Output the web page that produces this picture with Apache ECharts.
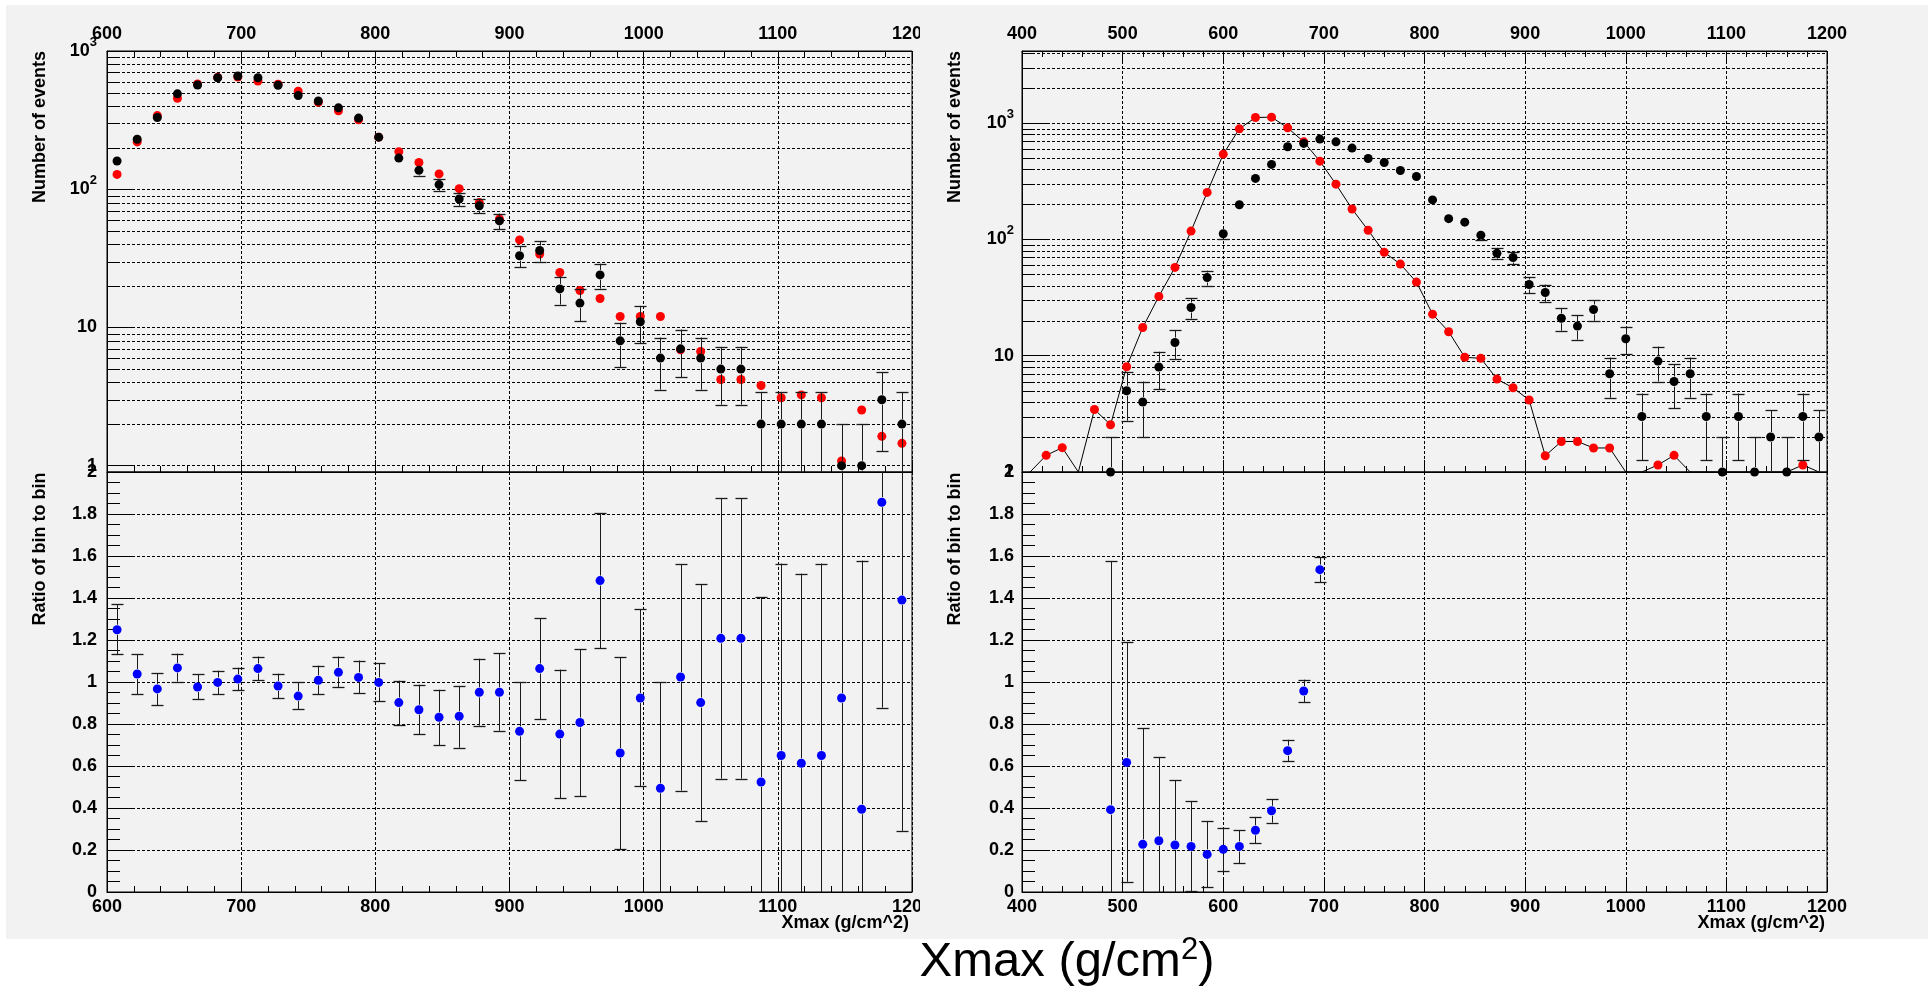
<!DOCTYPE html>
<html>
<head>
<meta charset="utf-8">
<script src="https://cdn.jsdelivr.net/npm/echarts@6/dist/echarts.min.js"></script>
<style>html,body{margin:0;padding:0;background:#fff}#c{width:1930px;height:989px}</style>
</head>
<body>
<div id="c"></div>
<script>
// ---------------- DATA ----------------
// Left panel: bin centres (g/cm^2), 15 g/cm^2 bins from 600 to 1200
const leftBins = [607.5,622.5,637.5,652.5,667.5,682.5,697.5,712.5,727.5,742.5,757.5,772.5,787.5,802.5,817.5,832.5,847.5,862.5,877.5,892.5,907.5,922.5,937.5,952.5,967.5,982.5,997.5,1012.5,1027.5,1042.5,1057.5,1072.5,1087.5,1102.5,1117.5,1132.5,1147.5,1162.5,1177.5,1192.5];
const leftBlack = [160,230,330,490,568,641,660,641,565,476,435,388,327,238,168,137,108,85,76,59,33,36,19,15,24,8,11,6,7,6,5,5,2,2,2,2,1,1,3,2];
const leftRed = [128,220,341,455,578,645,649,607,575,512,426,369,318,238,187,156,129,101,80,61,43,34,25,18.5,16.2,12,12,12,6.9,6.7,4.2,4.2,3.8,3.1,3.25,3.1,1.08,2.53,1.63,1.45];
const leftRatio = [1.249,1.038,0.967,1.067,0.976,0.998,1.014,1.064,0.981,0.933,1.008,1.046,1.022,0.998,0.902,0.868,0.832,0.837,0.951,0.951,0.765,1.064,0.752,0.807,1.483,0.662,0.924,0.494,1.024,0.902,1.208,1.208,0.524,0.650,0.613,0.650,0.924,0.394,1.856,1.390];
const leftRatioHi = [1.370,1.132,1.043,1.135,1.037,1.054,1.068,1.121,1.040,0.998,1.078,1.121,1.102,1.090,1.006,0.987,0.963,0.981,1.111,1.137,0.998,1.303,1.059,1.156,1.805,1.119,1.346,0.998,1.560,1.465,1.875,1.875,1.403,1.564,1.516,1.564,2.6,1.578,2.9,2.5];
const leftRatioLo = [1.133,0.943,0.889,1.002,0.919,0.943,0.960,1.008,0.922,0.871,0.941,0.975,0.946,0.908,0.795,0.752,0.700,0.687,0.792,0.768,0.532,0.824,0.448,0.457,1.162,0.204,0.505,0,0.483,0.336,0.540,0.540,0,0,0,0,0,0,0.878,0.291];

// Right panel: bin centres, 16 g/cm^2 bins from 400 to 1200
const rightBins = [408,424,440,456,472,488,504,520,536,552,568,584,600,616,632,648,664,680,696,712,728,744,760,776,792,808,824,840,856,872,888,904,920,936,952,968,984,1000,1016,1032,1048,1064,1080,1096,1112,1128,1144,1160,1176,1192];
const rightBlack = [0,0,0,0,0,1,5,4,8,13,26,47,112,199,335,442,627,670,730,692,611,497,459,392,348,219,151,141,109,76,70,41,35,21,18,25,7,14,3,9,6,7,3,1,3,1,2,1,3,2];
const rightRed = [0,1.39,1.62,0,3.45,2.55,8.04,17.5,32.4,57.5,118,254,542,895,1119,1128,913,692,472,299,183,120,77.5,61.4,43,22.8,16.1,9.7,9.5,6.3,5.3,4.16,1.38,1.83,1.83,1.61,1.61,0,0,1.15,1.39,0,0,0,0,0,0,0,1.15,0];
const rightRatioBins = [488,504,520,536,552,568,584,600,616,632,648,664,680,696];
const rightRatio = [0.392,0.617,0.227,0.244,0.224,0.217,0.179,0.203,0.217,0.294,0.387,0.673,0.957,1.535];
const rightRatioHi = [1.576,1.189,0.779,0.641,0.533,0.433,0.338,0.306,0.295,0.357,0.441,0.725,1.011,1.595];
const rightRatioLo = [0,0.049,0,0,0,0.004,0.022,0.100,0.138,0.233,0.330,0.622,0.905,1.475];

// Axis ranges and tick values
const leftX = [600, 1200];
const rightX = [400, 1200];
const leftLogY = [0.9, 1000];
const rightLogY = [1, 4180];
const ratioY = [0, 2];
const leftLogMinor = [2,3,4,5,6,7,8,9,20,30,40,50,60,70,80,90,200,300,400,500,600,700,800,900];
const rightLogMinor = [2,3,4,5,6,7,8,9,20,30,40,50,60,70,80,90,200,300,400,500,600,700,800,900,2000,3000,4000];

// ---------------- STYLE / HELPERS ----------------
const FONT = 'Liberation Sans';
const GRAY = '#f2f2f2';
const DOT = {color: '#000', width: 1, type: [3, 2]};
const MS = 9;          // marker diameter
const MR = 5;          // error bars hidden inside this radius

function lbl(extra) {
  return Object.assign({fontFamily: FONT, fontWeight: 'bold', fontSize: 18, color: '#000'}, extra || {});
}
function logFmt(v) {
  const l = Math.log10(v);
  const e = Math.round(l);
  if (Math.abs(l - e) > 1e-6 || e < 0) return '';
  if (e === 0) return '1';
  if (e === 1) return '10';
  return '{b|10}{s|' + e + '}';
}
const logRich = {
  b: {fontFamily: FONT, fontWeight: 'bold', fontSize: 18, color: '#000'},
  s: {fontFamily: FONT, fontWeight: 'bold', fontSize: 13, color: '#000', padding: [0, 0, 18, 0]}
};

function xAxisCfg(grid, range, pos, showLabel) {
  return {
    gridIndex: grid, type: 'value', min: range[0], max: range[1], interval: 100, position: pos,
    axisLine: {show: true, onZero: false, lineStyle: {color: '#000', width: 1}},
    axisTick: {show: true, inside: true, length: 12, lineStyle: {color: '#000', width: 1}},
    minorTick: {show: true, splitNumber: 5, length: 6, lineStyle: {color: '#000', width: 1}},
    axisLabel: showLabel ? lbl({margin: pos === 'top' ? 8 : 6, showMinLabel: true, showMaxLabel: true,
      formatter: v => String(Math.round(v))}) : {show: false},
    splitLine: {show: true, lineStyle: DOT}
  };
}
function logYCfg(grid, range, margin) {
  return {
    gridIndex: grid, type: 'log', logBase: 10, min: range[0], max: range[1],
    axisLine: {show: true, lineStyle: {color: '#000', width: 1}},
    axisTick: {show: true, inside: true, length: 27, lineStyle: {color: '#000', width: 1}},
    axisLabel: lbl({margin: margin, formatter: logFmt, rich: logRich, showMinLabel: true, showMaxLabel: true}),
    splitLine: {show: true, lineStyle: DOT}
  };
}
function ratioYCfg(grid, margin) {
  return {
    gridIndex: grid, type: 'value', min: ratioY[0], max: ratioY[1], interval: 0.2,
    axisLine: {show: true, lineStyle: {color: '#000', width: 1}},
    axisTick: {show: true, inside: true, length: 27, lineStyle: {color: '#000', width: 1}},
    minorTick: {show: true, splitNumber: 4, length: 13, lineStyle: {color: '#000', width: 1}},
    axisLabel: lbl({margin: margin, showMinLabel: true, showMaxLabel: true,
      formatter: v => String(Math.round(v * 10) / 10)}),
    splitLine: {show: true, lineStyle: DOT}
  };
}

function minorGridRender(params, api) {
  const cs = params.coordSys;
  const p = api.coord([api.value(0), api.value(1)]);
  const y = Math.round(p[1]) + 0.5;
  return {type: 'group', children: [
    {type: 'line', shape: {x1: cs.x, y1: y, x2: cs.x + cs.width, y2: y}, style: {stroke: '#000', lineWidth: 1, lineDash: [3, 2]}},
    {type: 'line', shape: {x1: cs.x, y1: y, x2: cs.x + 13, y2: y}, style: {stroke: '#000', lineWidth: 1}}
  ]};
}
// data item: [x, hi, lo, centralValue]
function makeErrRender(isLog) {
  return function (params, api) {
    const cs = params.coordSys;
    const top = cs.y, bot = cs.y + cs.height;
    const x = api.value(0), hi = api.value(1), lo = api.value(2), v = api.value(3);
    const pc = api.coord([x, v]);
    const xp = Math.round(pc[0]) + 0.5, ym = pc[1];
    const ch = [];
    const ls = {stroke: '#1a1a1a', lineWidth: 1};
    const cs2 = {stroke: '#1a1a1a', lineWidth: 1.3};
    // upper part
    let yHi = api.coord([x, hi])[1];
    if (ym - yHi > MR) {
      let capHi = true;
      if (yHi < top) { yHi = top; capHi = false; }
      ch.push({type: 'line', shape: {x1: xp, y1: yHi, x2: xp, y2: Math.min(ym - MR, bot)}, style: ls});
      if (capHi) { const y = Math.round(yHi) + 0.5; ch.push({type: 'line', shape: {x1: xp - 6, y1: y, x2: xp + 6, y2: y}, style: cs2}); }
    }
    // lower part
    let yLo, capLo = true;
    if (isLog && lo <= 0) { yLo = bot; capLo = false; }
    else {
      yLo = api.coord([x, lo])[1];
      if (yLo >= bot - 0.5) { yLo = bot; capLo = false; }
    }
    if (yLo - ym > MR) {
      ch.push({type: 'line', shape: {x1: xp, y1: Math.max(ym + MR, top), x2: xp, y2: yLo}, style: ls});
      if (capLo) { const y = Math.round(yLo) + 0.5; ch.push({type: 'line', shape: {x1: xp - 6, y1: y, x2: xp + 6, y2: y}, style: cs2}); }
    }
    return {type: 'group', children: ch};
  };
}

// Build data tables
const ulRed = leftBins.map((x, i) => [x, leftRed[i] > 0 ? leftRed[i] : '-']);
const ulBlack = leftBins.map((x, i) => [x, leftBlack[i] > 0 ? leftBlack[i] : '-']);
const ulErr = leftBins.map((x, i) => [x, leftBlack[i] + Math.sqrt(leftBlack[i]), leftBlack[i] - Math.sqrt(leftBlack[i]), leftBlack[i]]).filter((d, i) => leftBlack[i] > 0);
const llPts = leftBins.map((x, i) => [x, leftRatio[i]]);
const llErr = leftBins.map((x, i) => [x, leftRatioHi[i], leftRatioLo[i], leftRatio[i]]);

const urLine = rightBins.map((x, i) => [x, rightRed[i] > 0 ? rightRed[i] : rightLogY[0]]);
const urRed = rightBins.map((x, i) => [x, rightRed[i] > 0 ? rightRed[i] : '-']);
const urBlack = rightBins.map((x, i) => [x, rightBlack[i] > 0 ? rightBlack[i] : '-']);
const urErr = rightBins.map((x, i) => [x, rightBlack[i] + Math.sqrt(rightBlack[i]), rightBlack[i] - Math.sqrt(rightBlack[i]), rightBlack[i]]).filter((d, i) => rightBlack[i] > 0);
const lrPts = rightRatioBins.map((x, i) => [x, rightRatio[i]]);
const lrErr = rightRatioBins.map((x, i) => [x, rightRatioHi[i], rightRatioLo[i], rightRatio[i]]);

function scatter(xi, yi, data, color, z) {
  return {type: 'scatter', xAxisIndex: xi, yAxisIndex: yi, data: data, symbol: 'circle', symbolSize: MS,
    itemStyle: {color: color, opacity: 1}, z: z, silent: true, clip: true};
}
function custom(xi, yi, data, render, z) {
  return {type: 'custom', xAxisIndex: xi, yAxisIndex: yi, data: data, renderItem: render, encode: {x: 0, y: 1}, z: z, silent: true, clip: true};
}

const chart = echarts.init(document.getElementById('c'), null, {renderer: 'canvas', width: 1930, height: 989});
const gridBase = {show: true, borderColor: '#000', borderWidth: 1, backgroundColor: 'transparent', containLabel: false, outerBoundsMode: 'none'};

const titleStyle = {font: 'bold 18px "Liberation Sans"', fill: '#000', align: 'center', verticalAlign: 'middle', textAlign: 'center', textVerticalAlign: 'middle'};

const option = {
  animation: false,
  backgroundColor: GRAY,
  grid: [
    Object.assign({left: 107, top: 51, width: 805, height: 421}, gridBase),
    Object.assign({left: 107, top: 472, width: 805, height: 420}, gridBase),
    Object.assign({left: 1022, top: 51, width: 805, height: 421}, gridBase),
    Object.assign({left: 1022, top: 472, width: 805, height: 420}, gridBase)
  ],
  xAxis: [
    xAxisCfg(0, leftX, 'top', true),
    xAxisCfg(0, leftX, 'bottom', false),
    xAxisCfg(1, leftX, 'bottom', true),
    xAxisCfg(2, rightX, 'top', true),
    xAxisCfg(2, rightX, 'bottom', false),
    xAxisCfg(3, rightX, 'bottom', true)
  ],
  yAxis: [
    logYCfg(0, leftLogY, 10),
    ratioYCfg(1, 10),
    logYCfg(2, rightLogY, 8),
    ratioYCfg(3, 8)
  ],
  series: [
    custom(0, 0, leftLogMinor.map(v => [leftX[0], v]), minorGridRender, 1),
    scatter(0, 0, ulRed, '#ff0000', 3),
    custom(0, 0, ulErr, makeErrRender(true), 4),
    scatter(0, 0, ulBlack, '#000000', 5),

    custom(2, 1, llErr, makeErrRender(false), 4),
    scatter(2, 1, llPts, '#0000ff', 5),

    custom(3, 2, rightLogMinor.map(v => [rightX[0], v]), minorGridRender, 1),
    {type: 'line', xAxisIndex: 3, yAxisIndex: 2, data: urLine, showSymbol: false, symbol: 'none',
      lineStyle: {color: '#000', width: 1}, z: 3, silent: true, clip: true},
    scatter(3, 2, urRed, '#ff0000', 4),
    custom(3, 2, urErr, makeErrRender(true), 5),
    scatter(3, 2, urBlack, '#000000', 6),

    custom(5, 3, lrErr, makeErrRender(false), 4),
    scatter(5, 3, lrPts, '#0000ff', 5)
  ],
  graphic: {elements: [
    {type: 'rect', shape: {x: 0, y: 0, width: 1930, height: 5}, style: {fill: '#fff'}, z: 100, silent: true},
    {type: 'rect', shape: {x: 0, y: 0, width: 6, height: 989}, style: {fill: '#fff'}, z: 100, silent: true},
    {type: 'rect', shape: {x: 1928, y: 0, width: 2, height: 989}, style: {fill: '#fff'}, z: 100, silent: true},
    {type: 'rect', shape: {x: 0, y: 939, width: 1930, height: 50}, style: {fill: '#fff'}, z: 100, silent: true},
    {type: 'rect', shape: {x: 920, y: 5, width: 24, height: 934}, style: {fill: GRAY}, z: 100, silent: true},
    {type: 'text', x: 40, y: 127, rotation: Math.PI / 2, z: 101, silent: true,
      style: Object.assign({text: 'Number of events'}, titleStyle)},
    {type: 'text', x: 955, y: 127, rotation: Math.PI / 2, z: 101, silent: true,
      style: Object.assign({text: 'Number of events'}, titleStyle)},
    {type: 'text', x: 40, y: 549, rotation: Math.PI / 2, z: 101, silent: true,
      style: Object.assign({text: 'Ratio of bin to bin'}, titleStyle)},
    {type: 'text', x: 955, y: 549, rotation: Math.PI / 2, z: 101, silent: true,
      style: Object.assign({text: 'Ratio of bin to bin'}, titleStyle)},
    {type: 'text', x: 909, y: 923, z: 101, silent: true,
      style: {text: 'Xmax (g/cm^2)', font: 'bold 18px "Liberation Sans"', fill: '#000', align: 'right', verticalAlign: 'middle', textAlign: 'right', textVerticalAlign: 'middle'}},
    {type: 'text', x: 1825, y: 923, z: 101, silent: true,
      style: {text: 'Xmax (g/cm^2)', font: 'bold 18px "Liberation Sans"', fill: '#000', align: 'right', verticalAlign: 'middle', textAlign: 'right', textVerticalAlign: 'middle'}},
    {type: 'text', x: 1067, y: 962, z: 101, silent: true,
      style: {text: '{a|Xmax (g/cm}{s|2}{a|)}', fill: '#000', align: 'center', verticalAlign: 'middle', textAlign: 'center', textVerticalAlign: 'middle',
        rich: {a: {fontFamily: FONT, fontSize: 49, color: '#000'}, s: {fontFamily: FONT, fontSize: 31, color: '#000', padding: [0, 0, 23, 0]}}}}
  ]}
};
chart.setOption(option);
</script>
</body>
</html>
